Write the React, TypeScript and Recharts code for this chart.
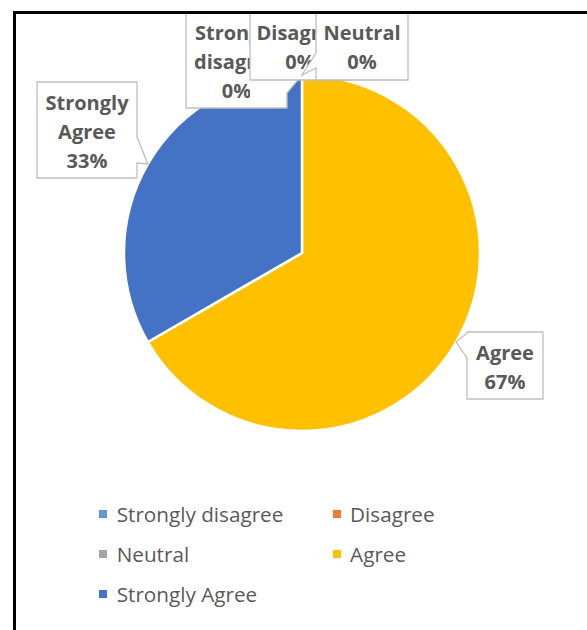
import React from 'react';
import { PieChart, Pie, Cell, Legend } from 'recharts';

// ---- data ----
const categories = ['Strongly disagree', 'Disagree', 'Neutral', 'Agree', 'Strongly Agree'];
const responses = [0, 0, 0, 2, 1];
const sliceColors = ['#5B9BD5', '#ED7D31', '#A5A5A5', '#FFC000', '#4472C4'];

const tableData = categories.map((name, i) => ({ name, value: responses[i], fill: sliceColors[i] }));

// ---- callout layout (box offset from the slice edge point, sizes, tail side, visible width) ----
type Callout = { dx: number; dy: number; w: number; h: number; edge: 'left' | 'right' | null; a: number; b: number; vis: number };
const calloutLayout: Callout[] = [
  { dx: -116, dy: -63, w: 101, h: 96, edge: 'right', a: 66, b: 81, vis: 64 },
  { dx: -52, dy: -63, w: 100, h: 68, edge: null, a: 0, b: 0, vis: 66 },
  { dx: 14, dy: -63, w: 92, h: 68, edge: 'left', a: 41, b: 56, vis: 92 },
  { dx: 10.85, dy: -10, w: 76, h: 67, edge: 'left', a: 1, b: 26, vis: 76 },
  { dx: -110.85, dy: -82, w: 100, h: 96, edge: 'right', a: 55, b: 81, vis: 100 },
];

const RADIAN = Math.PI / 180;
const TEXT = '#595959';
const FONT = '"Open Sans", "Noto Sans", sans-serif';

function calloutPath(x: number, y: number, w: number, h: number, tx: number, ty: number, c: Callout) {
  if (c.edge === 'right') {
    return `M${x},${y} L${x + w},${y} L${x + w},${y + c.a} L${tx},${ty} L${x + w},${y + c.b} L${x + w},${y + h} L${x},${y + h} Z`;
  }
  if (c.edge === 'left') {
    return `M${x},${y} L${x + w},${y} L${x + w},${y + h} L${x},${y + h} L${x},${y + c.b} L${tx},${ty} L${x},${y + c.a} Z`;
  }
  return `M${x},${y} L${x + w},${y} L${x + w},${y + h} L${x},${y + h} Z`;
}

const renderLabel = (props: any) => {
  const { cx, cy, midAngle, outerRadius, percent, index } = props;
  const c = calloutLayout[index];
  if (!c) return null;
  const tx = cx + outerRadius * Math.cos(-midAngle * RADIAN);
  const ty = cy + outerRadius * Math.sin(-midAngle * RADIAN);
  const x = tx + c.dx;
  const y = ty + c.dy;
  const name = (props.payload && props.payload.name) || categories[index];
  const lines = [...String(name).split(' '), `${Math.round((percent || 0) * 100)}%`];
  const midX = x + c.w / 2;
  const clipId = `callout-clip-${index}`;
  return (
    <g key={`callout-${index}`}>
      <defs>
        <clipPath id={clipId}>
          <rect x={x} y={y} width={c.vis} height={c.h} />
        </clipPath>
      </defs>
      <path d={calloutPath(x, y, c.w, c.h, tx, ty, c)} fill="#FFFFFF" stroke="#BFBFBF" strokeWidth={1.3} />
      <g clipPath={`url(#${clipId})`}>
        {lines.map((ln, i) => (
          <text
            key={i}
            x={midX}
            y={y + 28 + i * 29}
            textAnchor="middle"
            fill={TEXT}
            fontFamily={FONT}
            fontWeight={700}
            fontSize={20}
          >
            {ln}
          </text>
        ))}
      </g>
    </g>
  );
};

const legendCols = [99.3, 332.7];
const legendRows = [24, 64, 104];

const renderLegend = (props: any) => {
  const given: any[] = (props && props.payload) || [];
  const payload = categories.map((c, i) => {
    const found = given.find((p: any) => p && p.value === c);
    return {
      value: c,
      color: (found && ((found.payload && found.payload.fill) || found.color)) || sliceColors[i],
    };
  });
  return (
    <div style={{ position: 'relative', width: 587, height: 140 }}>
      {payload.map((p: any, i: number) => {
        const col = i % 2;
        const row = Math.floor(i / 2);
        return (
          <div
            key={i}
            style={{
              position: 'absolute',
              left: legendCols[col],
              top: legendRows[row] - 12,
              height: 24,
              lineHeight: '24px',
              display: 'flex',
              alignItems: 'center',
              whiteSpace: 'nowrap',
            }}
          >
            <span style={{ display: 'inline-block', width: 8, height: 8, background: p.color, marginRight: 9.4 }} />
            <span style={{ fontFamily: FONT, fontSize: 20.7, color: TEXT }}>{p.value}</span>
          </div>
        );
      })}
    </div>
  );
};

export default function App() {
  return (
    <div style={{ position: 'absolute', left: 0, top: 0, width: 587, height: 630, overflow: 'hidden', background: '#FFFFFF' }}>
      <PieChart width={587} height={630} margin={{ top: 0, right: 0, bottom: 0, left: 0 }}>
        <Pie
          data={tableData}
          dataKey="value"
          nameKey="name"
          cx={302}
          cy={253}
          outerRadius={178}
          startAngle={90}
          endAngle={-270}
          stroke="#FFFFFF"
          strokeWidth={2.5}
          label={renderLabel}
          labelLine={false}
          isAnimationActive={false}
        >
          {tableData.map((d, i) => (
            <Cell key={i} fill={sliceColors[i]} />
          ))}
        </Pie>
        <Legend
          verticalAlign="bottom"
          content={renderLegend}
          wrapperStyle={{ position: 'absolute', left: 0, bottom: 0, width: 587, height: 140 }}
        />
      </PieChart>
      <div
        style={{
          position: 'absolute',
          left: 12.7,
          top: 11,
          width: 700,
          height: 700,
          borderTop: '3.7px solid #000',
          borderLeft: '3.4px solid #000',
          pointerEvents: 'none',
        }}
      />
    </div>
  );
}
